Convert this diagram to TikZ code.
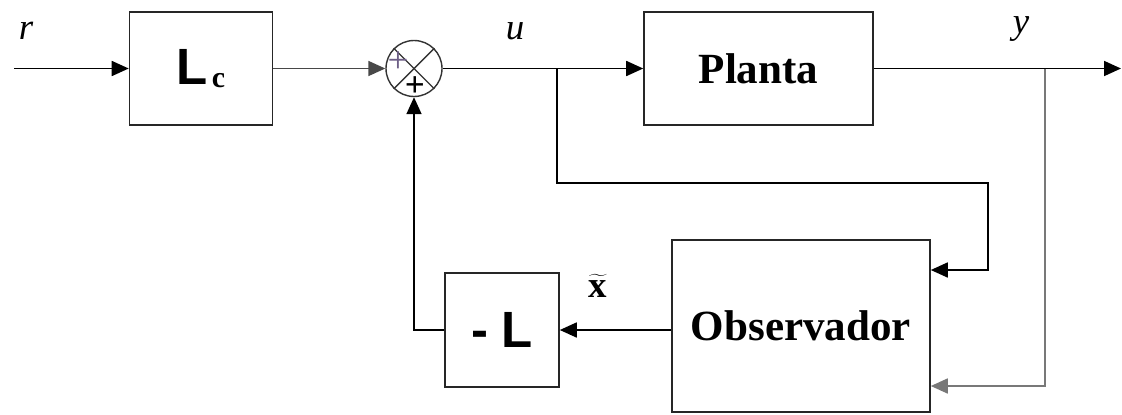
\documentclass[tikz,border=0pt]{standalone}
\usepackage{fontspec}
\setmainfont{Liberation Serif}
\newfontfamily\arialfont{Liberation Sans}
\definecolor{plusgray}{RGB}{110,95,135}
\definecolor{wiregray}{RGB}{120,120,120}
\usetikzlibrary{arrows.meta,positioning,calc}

\begin{document}
\begin{tikzpicture}[
  block/.style={draw=black!85, line width=0.9pt, inner sep=0pt},
  sumnode/.style={draw=black!80, circle, line width=0.8pt, minimum size=1.12cm, inner sep=0pt},
  conn/.style={line width=1pt, -{Triangle[length=0.34cm,width=0.3cm]}},
  sig/.style={font=\fontsize{21}{24}\selectfont\itshape},
  gain/.style={font=\arialfont\bfseries\fontsize{29}{30}\selectfont},
  title/.style={font=\bfseries\fontsize{24.5}{28}\selectfont}
]
  \useasboundingbox (0,0) rectangle (22.44,-8.28);
  % Blocks
  \node[block, gain, minimum width=2.86cm, minimum height=2.26cm] (Lc) at (4.02,-1.37)
    {L\hspace{0.08em}\raisebox{-0.06cm}{\rmfamily\bfseries\fontsize{17}{17}\selectfont c}};
  \node[sumnode] (sum) at (8.28,-1.37) {};
  \node[block, title, minimum width=4.58cm, minimum height=2.26cm] (Planta) at (15.17,-1.37) {Planta};
  \node[block, title, minimum width=5.16cm, minimum height=3.44cm] (Obs) at (16.02,-6.52) {Observador};
  \node[block, gain, minimum width=2.28cm, minimum height=2.28cm] (mL) at (10.04,-6.6) {-\hspace{0.25em}L};
  % Summing junction
  \draw[black!80, line width=0.8pt] (sum.north west) -- (sum.south east)
    (sum.south west) -- (sum.north east);
  \node[text=plusgray, font=\fontsize{21}{21}\selectfont] at ($(sum.center)+(-0.32,0.12)$) {+};
  \node[font=\bfseries\fontsize{20}{20}\selectfont] at ($(sum.center)+(0.02,-0.36)$) {+};
  % Signals
  \node[sig] (r) at (0.52,-0.62) {r};
  \node[sig] (u) at (10.3,-0.62) {u};
  \node[sig] (y) at (20.42,-0.58) {y};
  \node[font=\fontsize{21}{24}\selectfont] (xt) at (11.96,-5.72) {$\widetilde{\textbf{x}}$};
  \coordinate (in) at (0.28,-1.37);
  \coordinate (out) at (22.42,-1.37);
  \coordinate (ub) at (11.14,-1.37);
  \coordinate (uc) at (19.76,-3.66);
  \coordinate (yb) at (20.9,-1.37);
  % Connectors
  \draw[conn] (in) -- (Lc);
  \draw[conn, wiregray!60!black] (Lc) -- (sum);
  \draw[conn] (sum) -- (Planta);
  \draw[conn] (Planta) -- (out);
  \draw[conn] (ub) |- (uc) |- ([yshift=1.12cm]Obs.east);
  \draw[conn, wiregray] (yb) |- ([yshift=-1.2cm]Obs.east);
  \draw[conn] (Obs.west |- mL) -- (mL);
  \draw[conn] (mL) -| (sum);
\end{tikzpicture}
\end{document}
